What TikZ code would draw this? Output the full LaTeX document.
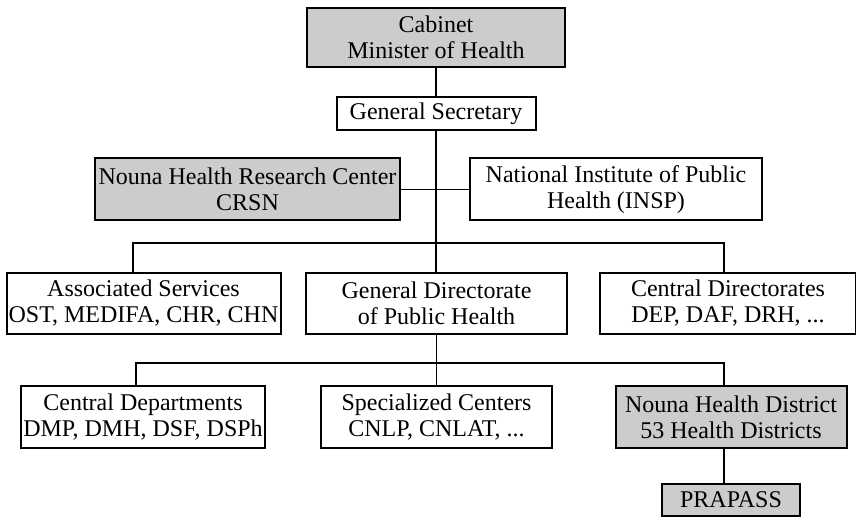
\documentclass[tikz,border=0pt]{standalone}
\usepackage{fontspec}
\setmainfont{Liberation Serif}
\usetikzlibrary{positioning}

\begin{document}
\begin{tikzpicture}[-,x=0.5pt,y=-0.5pt,thick,
                    main node/.style={rectangle,draw,line width=1pt,align=center,inner sep=0pt,
                                      font=\fontsize{12}{13}\selectfont},
                    grey node/.style={main node,fill=black!20},
                    sz/.style 2 args={minimum width=#1*0.5pt,minimum height=#2*0.5pt},
                    elbow/.style={to path={-| (\tikztotarget)}}]
  \useasboundingbox (0,0) rectangle (856,517);

  \node[grey node,sz={258}{59}] (cab) at (436,37.5) {Cabinet\\Minister of Health};
  \node[main node,sz={199}{33}] (sec) at (436,113.5) {General Secretary};
  \node[grey node,sz={305}{62}] (crsn) at (247.5,189.5) {Nouna Health Research Center\\CRSN};
  \node[main node,sz={292}{62}] (insp) at (616,189.5) {National Institute of Public\\Health (INSP)};
  \node[main node,sz={274}{61}] (assoc) at (143.5,303.5) {Associated Services\\OST, MEDIFA, CHR, CHN};
  \node[main node,sz={261}{61}] (gdph) at (436.5,303.5) {General Directorate\\of Public Health};
  \node[main node,sz={256}{61}] (cdir) at (728,303.5) {Central Directorates\\DEP, DAF, DRH, ...};
  \node[main node,sz={244}{62}] (cdep) at (143,417) {Central Departments\\DMP, DMH, DSF, DSPh};
  \node[main node,sz={231}{62}] (spec) at (436.5,417) {Specialized Centers\\CNLP, CNLAT, ...};
  \node[grey node,sz={231}{62}] (nhd) at (731,417) {Nouna Health District\\53 Health Districts};
  \node[grey node,sz={138}{32}] (prap) at (731,500) {PRAPASS};

  \coordinate (b1) at (436,243);
  \coordinate (b2) at (436,363);

  \path
    (cab) edge (sec)
    (sec.south) edge (sec.south |- gdph.north)
    (crsn) edge (insp)
    (b1) edge[elbow] ([xshift=-5.25pt]assoc.north)
         edge[elbow] ([xshift=-2pt]cdir.north)
    (gdph.south) edge (gdph.south |- spec.north)
    (b2) edge[elbow] ([xshift=-3.5pt]cdep.north)
         edge[elbow] ([xshift=-3.5pt]nhd.north)
    ([xshift=-3.5pt]nhd.south) edge ([xshift=-3.5pt]prap.north);
\end{tikzpicture}
\end{document}
